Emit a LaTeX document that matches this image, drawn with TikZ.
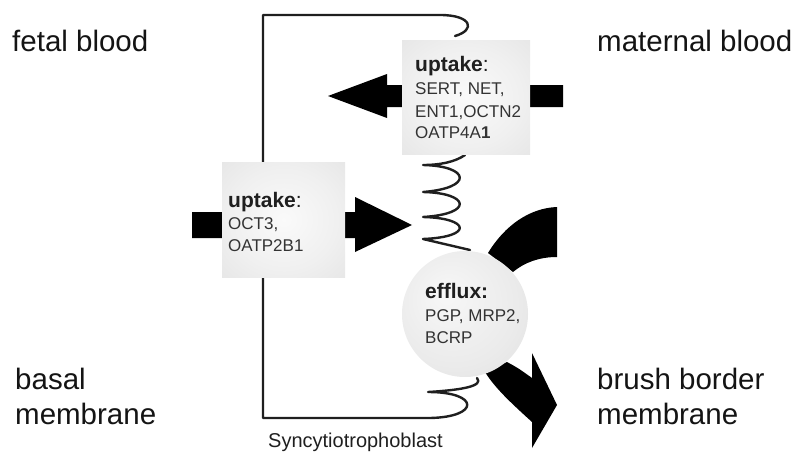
\documentclass[tikz,border=0pt]{standalone}
\usepackage{fontspec}
\setmainfont{Liberation Sans}
\pgfdeclareradialshading{boxshade}{\pgfpoint{0bp}{0bp}}{color(0bp)=(gray!4); color(22bp)=(gray!12); color(50bp)=(gray!26)}
\pgfdeclareradialshading{ballshade}{\pgfpoint{-8bp}{8bp}}{color(0bp)=(gray!6); color(25bp)=(gray!16); color(50bp)=(gray!30)}
\begin{document}
\begin{tikzpicture}[x=1pt,y=-1pt,
  lbl/.style={font=\fontsize{29.5}{35}\selectfont, anchor=base west, inner sep=0pt, text=black!92},
  small/.style={font=\fontsize{17}{21}\selectfont, anchor=base west, inner sep=0pt, text=black!80},
  head/.style={font=\fontsize{21}{21}\selectfont\bfseries, anchor=base west, inner sep=0pt, text=black!88},
  memb/.style={line width=2.4pt, draw=black!88, line cap=round, line join=round},
  blk/.style={fill=black, draw=none},
  boxnode/.style={rectangle, draw=none, shading=boxshade, inner sep=0pt}]
\useasboundingbox (0,0) rectangle (795,452);
% cell outline
\draw[memb] (455,36) .. controls (476,30) and (472,15) .. (440,15) -- (263,15) -- (263,418) -- (430,418)
   .. controls (480,417) and (480,392) .. (428,392) .. controls (462,390) and (484,386) .. (477,378);
% upper spring
\draw[memb] (465,155) .. controls (455,162) and (440,165) .. (423,165)
  .. controls (470,166) and (474,188) .. (423,192)
  .. controls (470,193) and (474,214) .. (423,217)
  .. controls (470,218) and (474,237) .. (423,239)
  -- (470,250);
% efflux bands
\fill[blk] (488,253) .. controls (505,225) and (530,208) .. (557,207) -- (557,257)
   .. controls (540,257) and (525,262) .. (513,272) -- cycle;
\fill[blk] (485,372) -- (507,362) .. controls (518,368) .. (532,378) -- (532,353) -- (557,405)
   -- (532,448) -- (532,422) .. controls (510,402) and (495,388) .. (485,372) -- cycle;
% efflux circle
\node[circle, minimum size=126pt, inner sep=0pt, shading=ballshade] (eff) at (465,314) {};
% arrows
\fill[blk] (563,85) -- (387,85) -- (387,74) -- (328,96) -- (387,118) -- (387,107) -- (563,107) -- cycle;
\fill[blk] (192,212) -- (355,212) -- (355,197) -- (412,225) -- (355,252) -- (355,238) -- (192,238) -- cycle;
% boxes
\node[boxnode, minimum width=128pt, minimum height=114pt, anchor=north west] (ubox) at (402,40) {};
\node[boxnode, minimum width=123pt, minimum height=115pt, anchor=north west] (lbox) at (222,162) {};
% box texts
\node[head] (u1) at (415,72) {uptake\textmd{:}};
\node[small] (u2) at (415,95) {SERT, NET,};
\node[small] (u3) at (415,117) {ENT1,OCTN2};
\node[small] (u4) at (415,138) {OATP4A\textbf{1}};
\node[head] (l1) at (228,207) {uptake\textmd{:}};
\node[small] (l2) at (228,229) {OCT3,};
\node[small] (l3) at (228,251) {OATP2B1};
\node[head] (e1) at (425,298) {efflux:};
\node[small] (e2) at (425,321) {PGP, MRP2,};
\node[small] (e3) at (425,343) {BCRP};
% labels
\node[lbl] (fb) at (12,52) {fetal blood};
\node[lbl] (mb) at (597,52) {maternal blood};
\node[lbl] (bm1) at (15,389) {basal};
\node[lbl] (bm2) at (15,424) {membrane};
\node[lbl] (bb1) at (597,389) {brush border};
\node[lbl] (bb2) at (597,424) {membrane};
\node[font=\fontsize{20}{20}\selectfont, anchor=base west, inner sep=0pt, text=black!88] (syn) at (268,447) {Syncytiotrophoblast};
\end{tikzpicture}
\end{document}
